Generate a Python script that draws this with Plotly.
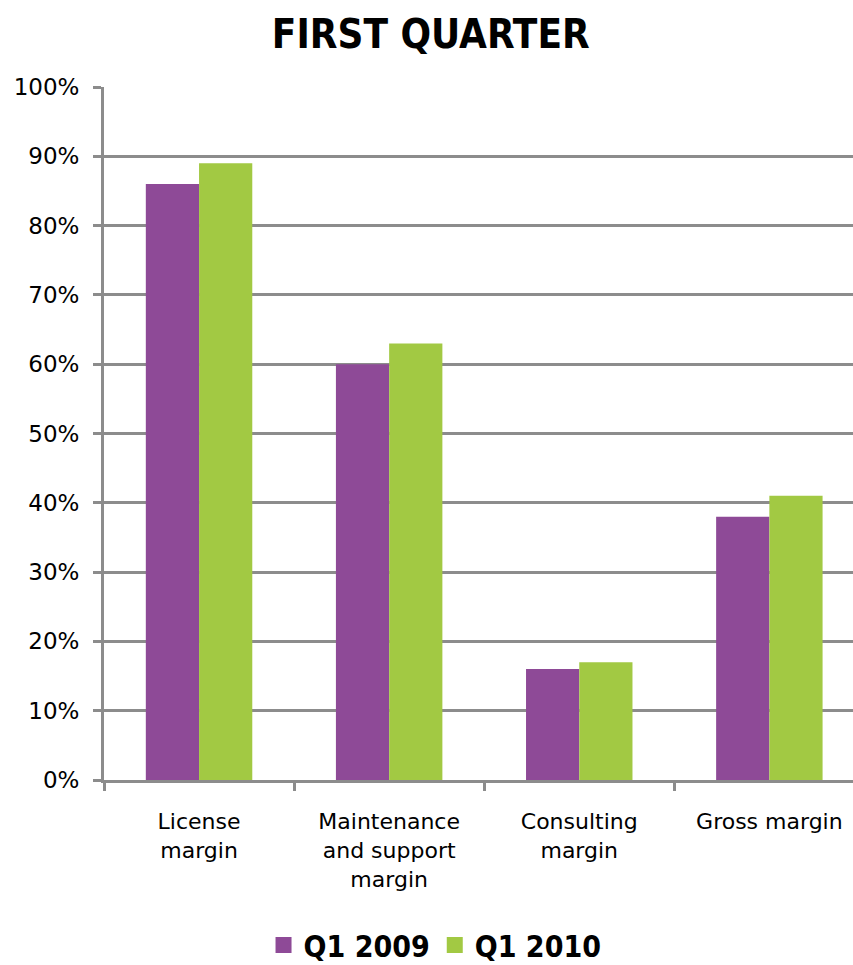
import plotly.graph_objects as go

categories = ["License<br>margin", "Maintenance<br>and support<br>margin", "Consulting<br>margin", "Gross margin"]
q1_2009 = [86, 60, 16, 38]
q1_2010 = [89, 63, 17, 41]
series_names = ["Q1 2009", "Q1 2010"]
colors = ["#8E4A97", "#A2C943"]
tick_vals = [0, 10, 20, 30, 40, 50, 60, 70, 80, 90, 100]
tick_text = [f"{v}%" for v in tick_vals]

fig = go.Figure()
for name, vals, col in zip(series_names, [q1_2009, q1_2010], colors):
    fig.add_trace(go.Bar(x=categories, y=vals, name=name, marker=dict(color=col, line=dict(width=0)),
                         showlegend=False))
    fig.add_trace(go.Scatter(x=[categories[0]], y=[None], mode="markers", name=name,
                             marker=dict(symbol="square", size=16, color=col)))

grid = "#8c8c8c"
cond = "DejaVu Sans Condensed, Liberation Sans Narrow, Arial Narrow, sans-serif"
fig.update_layout(
    width=853, height=965,
    margin=dict(l=104, r=0, t=87, b=185),
    paper_bgcolor="white", plot_bgcolor="white",
    barmode="group", bargap=0.44, bargroupgap=0,
    title=dict(text="<b>FIRST QUARTER</b>", x=0.505, xref="container", xanchor="center",
               y=1 - 34 / 965, yref="container", yanchor="middle",
               font=dict(family=cond, size=40, color="black")),
    legend=dict(orientation="h", x=0.51, xref="container", xanchor="center",
                y=1 - 945 / 965, yref="container", yanchor="middle",
                font=dict(family=cond, size=30, color="black", weight="bold"),
                itemsizing="trace"),
    font=dict(family="DejaVu Sans", size=22, color="black"),
)
fig.update_yaxes(range=[0, 100], tickvals=tick_vals, ticktext=tick_text,
                 showgrid=True, gridcolor=grid, gridwidth=3,
                 showline=True, linecolor=grid, linewidth=3,
                 ticks="outside", ticklen=8, tickcolor=grid, tickwidth=3,
                 ticklabelstandoff=9,
                 zeroline=False, tickfont=dict(size=23, family="DejaVu Sans"))
fig.update_xaxes(range=[-0.5, 3.44], showline=True, linecolor=grid, linewidth=3,
                 ticks="outside", tickson="boundaries", ticklen=8, tickcolor=grid, tickwidth=3,
                 ticklabelstandoff=20,
                 tickfont=dict(size=22, family="DejaVu Sans"), tickangle=0)

fig.write_html("out.html")
